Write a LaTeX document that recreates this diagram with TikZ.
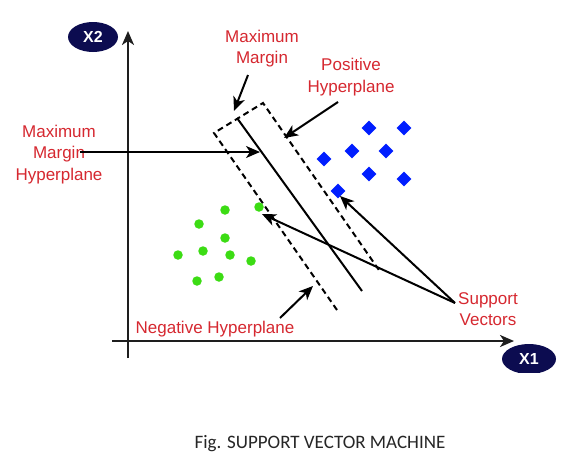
\documentclass[tikz,border=0pt]{standalone}
\usepackage{fontspec}
\setmainfont{Liberation Sans}
\newfontfamily\capfont{Carlito}
\usetikzlibrary{arrows.meta,shapes.geometric}
\definecolor{lblred}{RGB}{214,40,48}
\definecolor{navy}{RGB}{12,12,80}
\definecolor{dotgreen}{RGB}{60,220,20}
\definecolor{diablue}{RGB}{0,30,255}
\definecolor{axisgray}{RGB}{30,30,30}
\tikzset{
  lbl/.style={text=lblred, align=center, font=\fontsize{17}{21.5}\selectfont, inner sep=0pt},
  axislbl/.style={ellipse, fill=navy, text=white, font=\bfseries\fontsize{16}{16}\selectfont, minimum width=50pt, minimum height=30pt, inner sep=0pt},
  axisline/.style={line width=2.2pt, draw=axisgray, -{Stealth[length=14pt,width=12pt,inset=4pt]}},
  pointer/.style={line width=2pt, draw=black, -{Stealth[length=14pt,width=12pt,inset=4pt]}},
  gdot/.style={circle, fill=dotgreen, inner sep=0pt, minimum size=9.5pt},
  bdia/.style={diamond, fill=diablue, inner sep=0pt, minimum size=15pt},
  marginline/.style={line width=2pt, dash pattern=on 6pt off 4pt},
  hyper/.style={line width=2pt}
}
\begin{document}
\begin{tikzpicture}[x=1pt,y=-1pt]
\useasboundingbox (0,0) rectangle (578,466);
\fill[white] (0,0) rectangle (578,466);

% axes
\coordinate (yb) at (128,358);
\coordinate (yt) at (128,31);
\coordinate (xl) at (112,341);
\coordinate (xr) at (514,341);
\draw[axisline] (yb) -- (yt);
\draw[axisline] (xl) -- (xr);
\node[axislbl] (x2) at (93,37) {X2};
\begin{scope}
\clip (495,340) rectangle (565,372);
\node[axislbl, minimum width=54pt] (x1) at (529,359) {X1};
\end{scope}

% margin box (open at bottom)
\coordinate (bl) at (337,310);
\coordinate (tl) at (214,133);
\coordinate (tr) at (263,103);
\coordinate (br) at (381,273);
\draw[marginline] (bl) -- (tl) -- (tr) -- (br);
% hyperplane
\coordinate (ht) at (237,118);
\coordinate (hb) at (362,291);
\draw[hyper] (ht) -- (hb);

% green points
\node[gdot] (g1) at (225,210) {};
\node[gdot] (g2) at (259,207) {};
\node[gdot] (g3) at (199,224) {};
\node[gdot] (g4) at (225,238) {};
\node[gdot] (g5) at (178,255) {};
\node[gdot] (g6) at (203,251) {};
\node[gdot] (g7) at (230,255) {};
\node[gdot] (g8) at (251,261) {};
\node[gdot] (g9) at (197,281) {};
\node[gdot] (g10) at (219,277) {};

% blue diamonds
\node[bdia] (b1) at (369,128) {};
\node[bdia] (b2) at (404,128) {};
\node[bdia] (b3) at (352,151) {};
\node[bdia] (b4) at (386,151) {};
\node[bdia] (b5) at (324,159) {};
\node[bdia] (b6) at (369,174) {};
\node[bdia] (b7) at (404,179) {};
\node[bdia] (b8) at (338,191) {};

% labels
\node[lbl] (mm) at (262,48.5) {Maximum\\Margin};
\node[lbl] (ph) at (351,77) {Positive\\Hyperplane};
\node[lbl] (mmh) at (59,154.5) {Maximum\\Margin\\Hyperplane};
\node[lbl] (nh) at (215,329) {Negative Hyperplane};
\node[lbl] (sv) at (488,309) {Support\\Vectors};
\node[font=\capfont\fontsize{19}{19}\selectfont, text=black!85, inner sep=0pt] (cap) at (320,444) {Fig. SUPPORT VECTOR MACHINE};

% pointer arrows
\coordinate (mmS) at (248,75);
\coordinate (mmT) at (234,111);
\draw[pointer] (mmS) -- (mmT);
\coordinate (phS) at (338,102);
\coordinate (phT) at (284,138);
\draw[pointer] (phS) -- (phT);
\coordinate (mmhS) at (80,152);
\coordinate (mmhT) at (260,152);
\draw[pointer] (mmhS) -- (mmhT);
\coordinate (nhS) at (280,318);
\coordinate (nhT) at (313,286);
\draw[pointer] (nhS) -- (nhT);
\coordinate (svS) at (455,303);
\coordinate (svG) at (262,214);
\coordinate (svB) at (340,196);
\draw[pointer] (svS) -- (svG);
\draw[pointer] (svS) -- (svB);
\end{tikzpicture}
\end{document}
